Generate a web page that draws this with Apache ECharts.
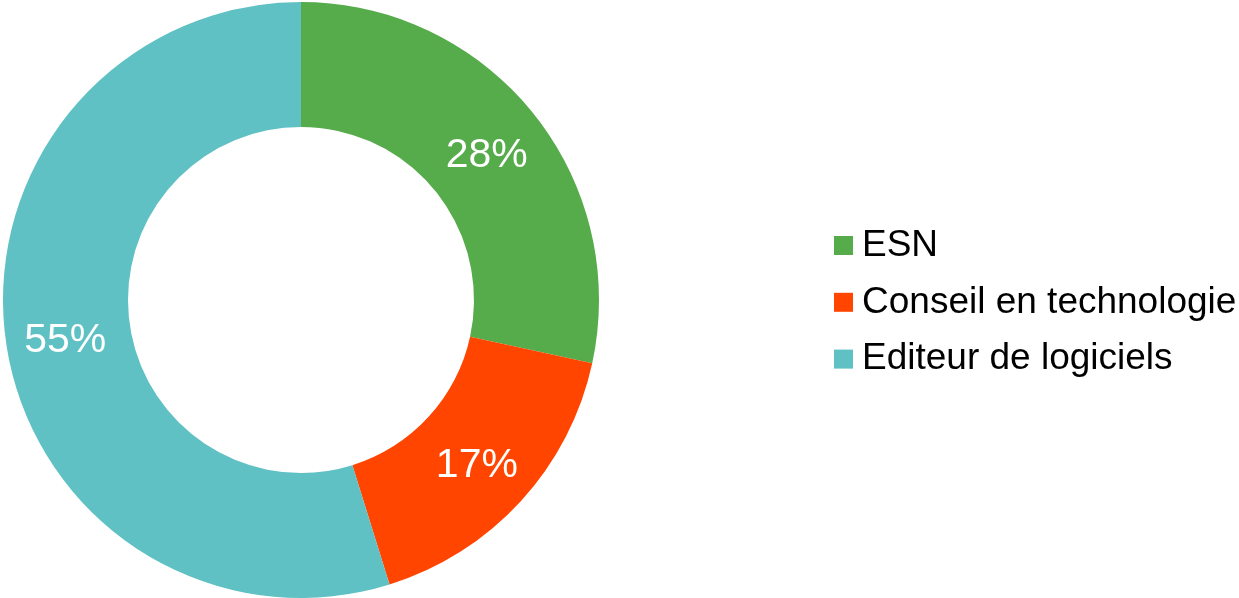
<!DOCTYPE html>
<html>
<head>
<meta charset="utf-8">
<script src="https://cdn.jsdelivr.net/npm/echarts@6/dist/echarts.min.js"></script>
<style>
html,body{margin:0;padding:0;background:#fff;}
#chart{width:1239px;height:598px;}
</style>
</head>
<body>
<div id="chart"></div>
<script>
const categories = ['ESN', 'Conseil en technologie', 'Editeur de logiciels'];
const values = [28.4, 16.8, 54.8];
const colors = ['#56AB4B', '#FF4500', '#5FC1C3'];

const chart = echarts.init(document.getElementById('chart'), null, {renderer: 'canvas'});
chart.setOption({
  animation: false,
  backgroundColor: '#ffffff',
  color: colors,
  legend: {
    orient: 'vertical',
    left: 834,
    top: 227,
    padding: 0,
    itemWidth: 19,
    itemHeight: 19,
    itemGap: 19.8,
    icon: 'rect',
    data: categories,
    textStyle: {
      fontFamily: 'Liberation Sans, Arial, sans-serif',
      fontSize: 37,
      lineHeight: 37,
      padding: [0, 0, 0, 4],
      color: '#000'
    }
  },
  series: [{
    type: 'pie',
    center: [301, 300],
    radius: [173, 298],
    startAngle: 90,
    clockwise: true,
    avoidLabelOverlap: false,
    silent: true,
    itemStyle: { borderWidth: 0 },
    label: {
      show: true,
      position: 'inside',
      color: '#fff',
      fontFamily: 'Liberation Sans, Arial, sans-serif',
      fontSize: 41,
      offset: [0, 5],
      formatter: p => Math.round(p.value) + '%'
    },
    labelLine: { show: false },
    data: categories.map((c, i) => ({ name: c, value: values[i] }))
  }]
});
</script>
</body>
</html>
